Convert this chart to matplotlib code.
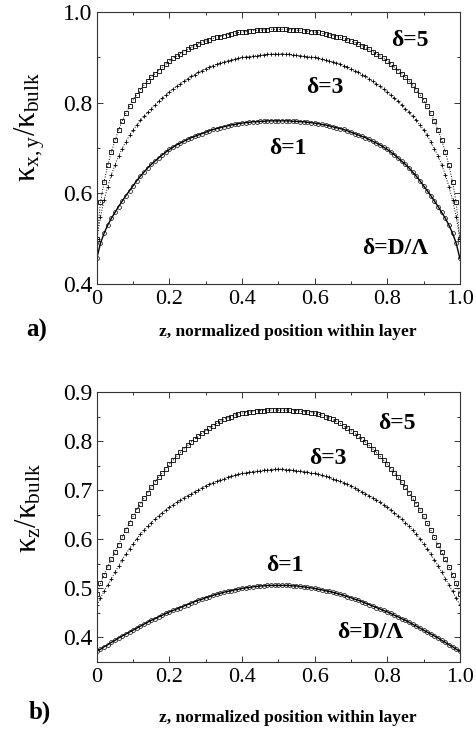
import matplotlib
matplotlib.use("Agg")
import matplotlib.pyplot as plt
from matplotlib.ticker import MultipleLocator
import numpy as np

# ── data ──────────────────────────────────────────────────────────────────────
z = np.linspace(0.0, 1.0, 101)   # normalized position, step 0.01

# panel a: in-plane kappa_{x,y}/kappa_bulk
kxy_d5 = [
    0.500, 0.580, 0.625, 0.662, 0.692, 0.717, 0.740, 0.760, 0.777, 0.792,
    0.806, 0.818, 0.829, 0.839, 0.848, 0.857, 0.864, 0.871, 0.878, 0.885,
    0.892, 0.898, 0.903, 0.908, 0.913, 0.918, 0.922, 0.926, 0.930, 0.933,
    0.936, 0.939, 0.942, 0.944, 0.946, 0.948, 0.950, 0.952, 0.953, 0.955,
    0.956, 0.957, 0.958, 0.959, 0.960, 0.960, 0.961, 0.961, 0.962, 0.962,
    0.962,
    0.962, 0.962, 0.961, 0.961, 0.960, 0.960, 0.959, 0.958, 0.957, 0.956,
    0.955, 0.953, 0.952, 0.950, 0.948, 0.946, 0.944, 0.942, 0.939, 0.936,
    0.933, 0.930, 0.926, 0.922, 0.918, 0.913, 0.908, 0.903, 0.898, 0.892,
    0.885, 0.878, 0.871, 0.864, 0.857, 0.848, 0.839, 0.829, 0.818, 0.806,
    0.792, 0.777, 0.760, 0.740, 0.717, 0.692, 0.662, 0.625, 0.580, 0.500,
]
kxy_d3 = [
    0.500, 0.548, 0.585, 0.615, 0.641, 0.663, 0.682, 0.699, 0.714, 0.728,
    0.740, 0.751, 0.761, 0.770, 0.779, 0.787, 0.795, 0.803, 0.810, 0.817,
    0.824, 0.830, 0.836, 0.842, 0.847, 0.853, 0.858, 0.862, 0.867, 0.871,
    0.875, 0.879, 0.882, 0.885, 0.888, 0.890, 0.892, 0.894, 0.896, 0.898,
    0.900, 0.901, 0.902, 0.903, 0.904, 0.905, 0.906, 0.907, 0.907, 0.908,
    0.908,
    0.908, 0.907, 0.907, 0.906, 0.905, 0.904, 0.903, 0.902, 0.901, 0.900,
    0.898, 0.896, 0.894, 0.892, 0.890, 0.888, 0.885, 0.882, 0.879, 0.875,
    0.871, 0.867, 0.862, 0.858, 0.853, 0.847, 0.842, 0.836, 0.830, 0.824,
    0.817, 0.810, 0.803, 0.795, 0.787, 0.779, 0.770, 0.761, 0.751, 0.740,
    0.728, 0.714, 0.699, 0.682, 0.663, 0.641, 0.615, 0.585, 0.548, 0.500,
]
kxy_d1 = [
    0.457, 0.490, 0.512, 0.530, 0.545, 0.558, 0.571, 0.583, 0.595, 0.606,
    0.617, 0.628, 0.638, 0.647, 0.656, 0.664, 0.671, 0.678, 0.685, 0.691,
    0.697, 0.702, 0.707, 0.711, 0.715, 0.719, 0.723, 0.726, 0.729, 0.732,
    0.735, 0.738, 0.741, 0.743, 0.745, 0.747, 0.749, 0.751, 0.752, 0.754,
    0.755, 0.756, 0.757, 0.758, 0.758, 0.759, 0.759, 0.760, 0.760, 0.760,
    0.760,
    0.760, 0.760, 0.760, 0.759, 0.759, 0.758, 0.758, 0.757, 0.756, 0.755,
    0.754, 0.752, 0.751, 0.749, 0.747, 0.745, 0.743, 0.741, 0.738, 0.735,
    0.732, 0.729, 0.726, 0.723, 0.719, 0.715, 0.711, 0.707, 0.702, 0.697,
    0.691, 0.685, 0.678, 0.671, 0.664, 0.656, 0.647, 0.638, 0.628, 0.617,
    0.606, 0.595, 0.583, 0.571, 0.558, 0.545, 0.530, 0.512, 0.490, 0.457,
]

# panel b: cross-plane kappa_z/kappa_bulk
kz_d5 = [
    0.489, 0.510, 0.528, 0.544, 0.559, 0.574, 0.589, 0.604, 0.619, 0.633,
    0.647, 0.660, 0.672, 0.684, 0.695, 0.706, 0.716, 0.726, 0.735, 0.744,
    0.753, 0.761, 0.769, 0.777, 0.784, 0.791, 0.798, 0.804, 0.810, 0.816,
    0.821, 0.826, 0.831, 0.836, 0.840, 0.844, 0.847, 0.850, 0.853, 0.855,
    0.857, 0.858, 0.859, 0.860, 0.861, 0.862, 0.862, 0.863, 0.863, 0.863,
    0.863,
    0.863, 0.863, 0.863, 0.862, 0.862, 0.861, 0.860, 0.859, 0.858, 0.857,
    0.855, 0.853, 0.850, 0.847, 0.844, 0.840, 0.836, 0.831, 0.826, 0.821,
    0.816, 0.810, 0.804, 0.798, 0.791, 0.784, 0.777, 0.769, 0.761, 0.753,
    0.744, 0.735, 0.726, 0.716, 0.706, 0.695, 0.684, 0.672, 0.660, 0.647,
    0.633, 0.619, 0.604, 0.589, 0.574, 0.559, 0.544, 0.528, 0.510, 0.489,
]
kz_d3 = [
    0.466, 0.480, 0.494, 0.507, 0.520, 0.533, 0.546, 0.558, 0.570, 0.581,
    0.591, 0.601, 0.610, 0.619, 0.627, 0.634, 0.641, 0.648, 0.654, 0.660,
    0.665, 0.670, 0.675, 0.680, 0.685, 0.689, 0.693, 0.697, 0.701, 0.705,
    0.709, 0.712, 0.715, 0.718, 0.721, 0.723, 0.726, 0.728, 0.730, 0.732,
    0.734, 0.735, 0.737, 0.738, 0.739, 0.740, 0.741, 0.742, 0.742, 0.743,
    0.743,
    0.743, 0.742, 0.742, 0.741, 0.740, 0.739, 0.738, 0.737, 0.735, 0.734,
    0.732, 0.730, 0.728, 0.726, 0.723, 0.721, 0.718, 0.715, 0.712, 0.709,
    0.705, 0.701, 0.697, 0.693, 0.689, 0.685, 0.680, 0.675, 0.670, 0.665,
    0.660, 0.654, 0.648, 0.641, 0.634, 0.627, 0.619, 0.610, 0.601, 0.591,
    0.581, 0.570, 0.558, 0.546, 0.533, 0.520, 0.507, 0.494, 0.480, 0.466,
]
kz_d1 = [
    0.372, 0.376, 0.381, 0.385, 0.390, 0.394, 0.399, 0.403, 0.407, 0.411,
    0.415, 0.419, 0.423, 0.427, 0.431, 0.435, 0.438, 0.442, 0.445, 0.449,
    0.452, 0.455, 0.458, 0.461, 0.464, 0.467, 0.470, 0.473, 0.476, 0.478,
    0.481, 0.483, 0.486, 0.488, 0.490, 0.492, 0.494, 0.495, 0.497, 0.498,
    0.500, 0.501, 0.502, 0.503, 0.504, 0.505, 0.505, 0.506, 0.506, 0.506,
    0.506,
    0.506, 0.506, 0.506, 0.505, 0.505, 0.504, 0.503, 0.502, 0.501, 0.500,
    0.498, 0.497, 0.495, 0.494, 0.492, 0.490, 0.488, 0.486, 0.483, 0.481,
    0.478, 0.476, 0.473, 0.470, 0.467, 0.464, 0.461, 0.458, 0.455, 0.452,
    0.449, 0.445, 0.442, 0.438, 0.435, 0.431, 0.427, 0.423, 0.419, 0.415,
    0.411, 0.407, 0.403, 0.399, 0.394, 0.390, 0.385, 0.381, 0.376, 0.372,
]

# ── style ─────────────────────────────────────────────────────────────────────
plt.rcParams.update({
    "font.family": "Liberation Serif",
    "mathtext.fontset": "custom",
    "mathtext.rm": "Liberation Serif",
    "mathtext.it": "Liberation Serif:italic",
    "axes.linewidth": 0.8,
    "axes.edgecolor": "#333333",
})

XLABEL = "z, normalized position within layer"

fig = plt.figure(figsize=(4.77, 7.29), dpi=100)
ax_a = fig.add_axes([0.203, 0.6104, 0.761, 0.373])
ax_b = fig.add_axes([0.203, 0.0919, 0.761, 0.3704])


def draw_curves(ax, d5, d3, d1):
    ax.plot(z, d5, ls=":", lw=0.7, color="k", marker="s", ms=3.2,
            mfc="none", mec="k", mew=0.6)
    ax.plot(z, d3, ls=":", lw=0.7, color="k", marker="+", ms=3.2,
            mec="k", mew=0.6)
    ax.plot(z, d1, ls="-", lw=1.0, color="k", marker="o", ms=2.8,
            mfc="none", mec="k", mew=0.5)


def style_axes(ax, ylo, yhi, ymaj, ymin, ysize, xsize):
    ax.set_xlim(0, 1)
    ax.set_ylim(ylo, yhi)
    ax.xaxis.set_major_locator(MultipleLocator(0.2))
    ax.xaxis.set_minor_locator(MultipleLocator(0.1))
    ax.yaxis.set_major_locator(MultipleLocator(ymaj))
    ax.yaxis.set_minor_locator(MultipleLocator(ymin))
    ax.tick_params(which="both", direction="in", top=True, right=True,
                   width=0.7, color="#333333")
    ax.tick_params(which="major", length=4)
    ax.tick_params(which="minor", length=2.5)
    ax.tick_params(axis="y", labelsize=ysize, pad=3)
    ax.tick_params(axis="x", labelsize=xsize, pad=4)
    ax.set_xticks([0, 0.2, 0.4, 0.6, 0.8, 1.0])
    ax.set_xticklabels(["0", "0.2", "0.4", "0.6", "0.8", "1.0"])


# ── panel a ───────────────────────────────────────────────────────────────────
draw_curves(ax_a, kxy_d5, kxy_d3, kxy_d1)
style_axes(ax_a, 0.4, 1.0, 0.2, 0.1, 17, 16)
ax_a.set_yticks([0.4, 0.6, 0.8, 1.0])
ax_a.set_yticklabels(["0.4", "0.6", "0.8", "1.0"])

lab = dict(fontsize=17, fontweight="bold", ha="center", va="center")
ax_a.text(0.862, 0.938, "δ=5", **lab)
ax_a.text(0.628, 0.834, "δ=3", **lab)
ax_a.text(0.526, 0.700, "δ=1", **lab)
ax_a.text(0.821, 0.479, "δ=D/Λ", **lab)

fig.text(0.063, 0.826, r"$\mathrm{κ_{x,y}/κ_{bulk}}$", rotation=90,
         fontsize=22, ha="center", va="center")
fig.text(0.604, 0.5446, XLABEL, fontsize=12.5, fontweight="bold",
         ha="center", va="center")
fig.text(0.077, 0.547, "a)", fontsize=18, fontweight="bold",
         ha="center", va="center")

# ── panel b ───────────────────────────────────────────────────────────────────
draw_curves(ax_b, kz_d5, kz_d3, kz_d1)
style_axes(ax_b, 0.35, 0.9, 0.1, 0.05, 17, 16)
ax_b.set_yticks([0.4, 0.5, 0.6, 0.7, 0.8, 0.9])
ax_b.set_yticklabels(["0.4", "0.5", "0.6", "0.7", "0.8", "0.9"])

ax_b.text(0.826, 0.836, "δ=5", **lab)
ax_b.text(0.635, 0.765, "δ=3", **lab)
ax_b.text(0.519, 0.546, "δ=1", **lab)
ax_b.text(0.753, 0.410, "δ=D/Λ", **lab)

fig.text(0.061, 0.303, r"$\mathrm{κ_{z}/κ_{bulk}}$", rotation=90,
         fontsize=22, ha="center", va="center")
fig.text(0.604, 0.0151, XLABEL, fontsize=12.5, fontweight="bold",
         ha="center", va="center")
fig.text(0.084, 0.0233, "b)", fontsize=18, fontweight="bold",
         ha="center", va="center")

fig.savefig("out.png", dpi=100)
